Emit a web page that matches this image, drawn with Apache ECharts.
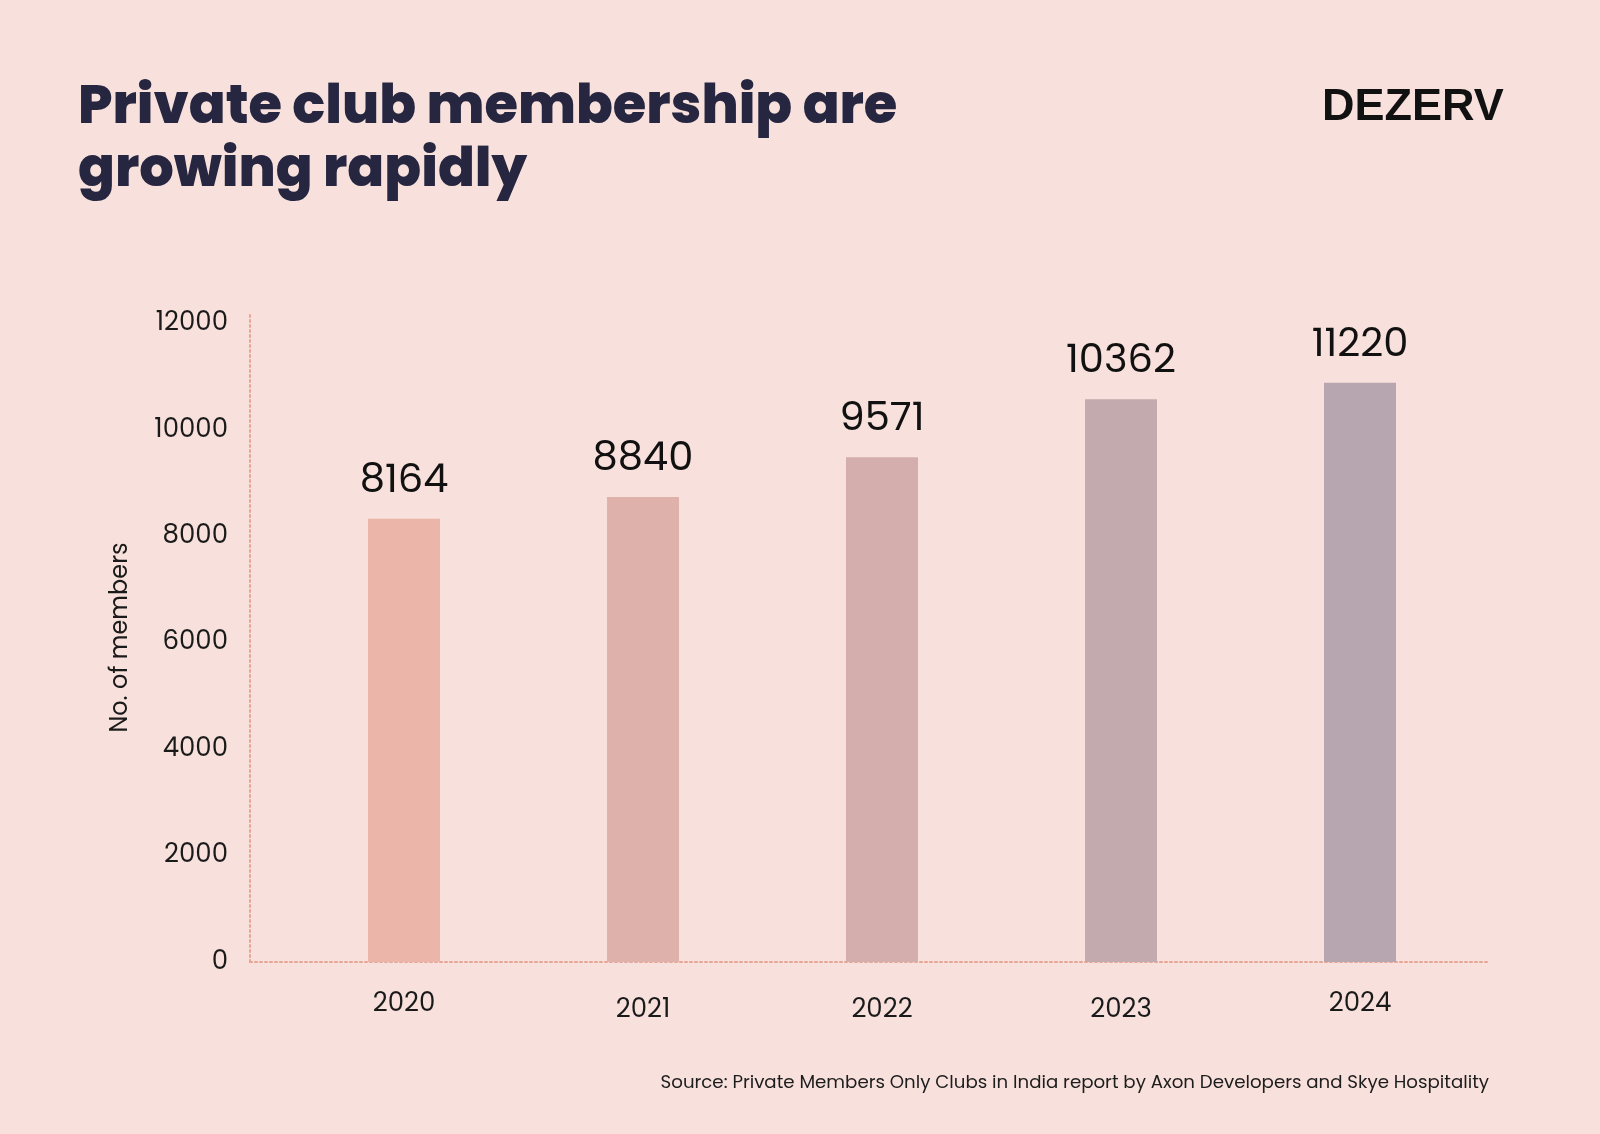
<!DOCTYPE html>
<html>
<head>
<meta charset="utf-8">
<script src="https://cdn.jsdelivr.net/npm/echarts@6/dist/echarts.min.js"></script>
<style>
  html, body { margin: 0; padding: 0; background: #F8E1DC; }
  #chart { width: 1600px; height: 1134px; }
</style>
</head>
<body>
<div id="chart"></div>
<script>
// ---- Data ----
const categories = ['2020', '2021', '2022', '2023', '2024'];
// Bar heights as drawn in the picture
const barValues = [8330, 8740, 9490, 10580, 10890];
// Printed value labels above the bars
const valueLabels = ['8164', '8840', '9571', '10362', '11220'];
const yTicks = [0, 2000, 4000, 6000, 8000, 10000, 12000];
const barColors = ['#EBB6A9', '#DFB1AB', '#D3AEAD', '#C3AAAF', '#B7A6B0'];

const titleText = 'Private club membership are\ngrowing rapidly';
const brandText = 'DEZERV';
const yAxisName = 'No. of members';
const sourceText = 'Source: Private Members Only Clubs in India report by Axon Developers and Skye Hospitality';

// per-category label offsets (style only)
const catPad = [0, 6, 6, 6, 0];

const chart = echarts.init(document.getElementById('chart'), null, { renderer: 'canvas' });

const axisColor = '#E6A595';
const font = 'Poppins, Inter, "Noto Sans", sans-serif';

const option = {
  backgroundColor: '#F8E1DC',
  animation: false,
  title: [
    {
      text: titleText,
      left: 73,
      top: 73,
      textStyle: {
        fontFamily: font,
        fontSize: 54.3,
        fontWeight: 800,
        color: '#262640',
        lineHeight: 63
      }
    },
    {
      text: brandText,
      left: 1317,
      top: 80,
      textStyle: {
        fontFamily: '"Liberation Sans", Arial, sans-serif',
        fontSize: 45,
        fontWeight: 'bold',
        color: '#111111'
      }
    },
    {
      text: sourceText,
      right: 106,
      top: 1069,
      textStyle: {
        fontFamily: font,
        fontSize: 18.2,
        fontWeight: 400,
        color: '#1d1d1d'
      }
    }
  ],
  grid: [
    { left: 284.5, width: 1195, top: 313, bottom: 172 },
    { left: 250, right: 110, top: 313, bottom: 172 }
  ],
  xAxis: [
    {
      type: 'category',
      gridIndex: 0,
      data: categories.map((c, i) => ({ value: c, textStyle: { padding: [catPad[i], 0, 0, 0] } })),
      axisLine: { show: false },
      axisTick: { show: false },
      axisLabel: {
        margin: 29,
        fontFamily: font,
        fontSize: 26,
        color: '#1a1a1a'
      }
    },
    {
      type: 'value',
      gridIndex: 1,
      min: 0,
      max: 1,
      axisLine: { show: true, lineStyle: { color: axisColor, width: 2, type: [2, 3] } },
      axisTick: { show: false },
      axisLabel: { show: false },
      splitLine: { show: false }
    }
  ],
  yAxis: [
    {
      type: 'value',
      gridIndex: 0,
      min: 0,
      max: 12200,
      interval: 2000,
      offset: 34.5,
      name: yAxisName,
      nameLocation: 'middle',
      nameGap: 117,
      nameRotate: 90,
      nameTextStyle: {
        fontFamily: font,
        fontSize: 24,
        color: '#1a1a1a'
      },
      axisLine: { show: true, lineStyle: { color: axisColor, width: 2, type: [2, 3] } },
      axisTick: { show: false },
      splitLine: { show: false },
      axisLabel: {
        margin: 22,
        showMaxLabel: false,
        fontFamily: font,
        fontSize: 26,
        color: '#1a1a1a',
        formatter: function (v) { return yTicks.indexOf(v) >= 0 ? String(v) : ''; }
      }
    },
    {
      type: 'value',
      gridIndex: 1,
      min: 0,
      max: 12200,
      show: false
    }
  ],
  series: [
    {
      type: 'bar',
      xAxisIndex: 0,
      yAxisIndex: 0,
      barWidth: 72,
      data: barValues.map((v, i) => ({ value: v, itemStyle: { color: barColors[i] } })),
      label: {
        show: true,
        position: 'top',
        distance: 17,
        fontFamily: font,
        fontSize: 40,
        color: '#111111',
        formatter: function (p) { return valueLabels[p.dataIndex]; }
      }
    }
  ]
};

chart.setOption(option);
</script>
</body>
</html>
